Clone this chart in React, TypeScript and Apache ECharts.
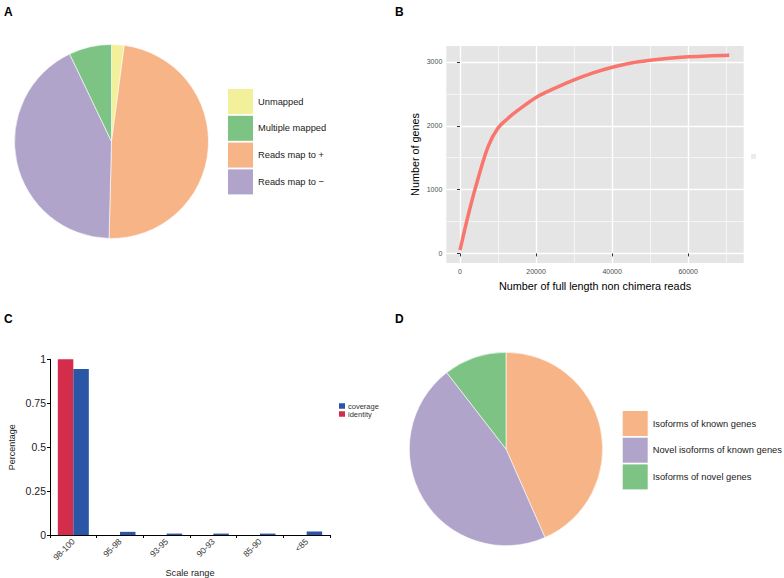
import React, { useEffect, useRef } from "react";
import * as echarts from "echarts";

// Panel A: mapping pie (clockwise from 12 o'clock)
const pieANames = ["Unmapped", "Reads map to +", "Reads map to −", "Multiple mapped"];
const pieAValues = [2.1, 48.3, 42.5, 7.1];
const pieAColors = ["#F3F09B", "#F7B587", "#B1A4CB", "#7DC383"];
const legendAOrder = ["Unmapped", "Multiple mapped", "Reads map to +", "Reads map to −"];

// Panel B: saturation curve
const curveReads = [0, 2500, 5000, 7500, 10000, 12500, 15000, 20000, 25000, 30000, 35000, 40000, 45000, 50000, 55000, 60000, 65000, 70800];
const curveGenes = [50, 680, 1225, 1690, 1964, 2110, 2232, 2445, 2590, 2718, 2828, 2918, 2985, 3027, 3058, 3080, 3095, 3105];
const xTicksB = [0, 20000, 40000, 60000];
const yTicksB = [0, 1000, 2000, 3000];

// Panel C: identity / coverage bars
const scaleRanges = ["98-100", "95-98", "93-95", "90-93", "85-90", "<85"];
const identityValues = [1, 0, 0, 0, 0, 0];
const coverageValues = [0.945, 0.018, 0.008, 0.008, 0.008, 0.02];

// Panel D: isoform pie
const pieDNames = ["Isoforms of known genes", "Novel isoforms of known genes", "Isoforms of novel genes"];
const pieDValues = [43.4, 46.1, 10.5];
const pieDColors = ["#F7B587", "#B1A4CB", "#7DC383"];

const FONT = "'Liberation Sans', Arial, sans-serif";

export default function App() {
  const ref = useRef<HTMLDivElement>(null);
  useEffect(() => {
    document.body.style.margin = "0";
    if (!ref.current) return;
    const chart = echarts.init(ref.current, null, { renderer: "svg" });
    const pieLegendText = { fontSize: 9.3, color: "#1a1a1a", fontFamily: FONT };
    const plain = (v: number) => String(v);
    const option: any = {
      animation: false,
      backgroundColor: "#ffffff",
      textStyle: { fontFamily: FONT },
      graphic: [
        { type: "text", left: 4, top: 6, style: { text: "A", fontSize: 12, fontWeight: "bold", fill: "#000", fontFamily: FONT } },
        { type: "text", left: 395, top: 6, style: { text: "B", fontSize: 12, fontWeight: "bold", fill: "#000", fontFamily: FONT } },
        { type: "text", left: 4, top: 313, style: { text: "C", fontSize: 12, fontWeight: "bold", fill: "#000", fontFamily: FONT } },
        { type: "text", left: 395, top: 313, style: { text: "D", fontSize: 12, fontWeight: "bold", fill: "#000", fontFamily: FONT } },
        { type: "rect", shape: { x: 751, y: 154, width: 5, height: 5 }, style: { fill: "#EBEBEB" } },
      ],
      legend: [
        {
          left: 228, top: 89, padding: 0, orient: "vertical", icon: "rect",
          itemWidth: 25, itemHeight: 25, itemGap: 1.8, selectedMode: false,
          itemStyle: { borderWidth: 0 },
          data: legendAOrder, textStyle: pieLegendText,
        },
        {
          left: 622.7, top: 411, padding: 0, orient: "vertical", icon: "rect",
          itemWidth: 25, itemHeight: 25, itemGap: 1.7, selectedMode: false,
          itemStyle: { borderWidth: 0 },
          data: pieDNames, textStyle: pieLegendText,
        },
        {
          left: 339, top: 402, padding: 0, orient: "vertical", icon: "rect",
          itemWidth: 6, itemHeight: 5.5, itemGap: 0, selectedMode: false,
          data: ["coverage", "identity"],
          textStyle: { fontSize: 7.5, color: "#333", fontFamily: FONT, padding: [0, 0, 0, -2] },
        },
      ],
      grid: [
        { left: 446.3, right: 40.3, top: 46, bottom: 315, show: true, backgroundColor: "#E5E5E5", borderWidth: 0 },
        { left: 50, right: 454, top: 359.3, bottom: 39.7 },
      ],
      xAxis: [
        {
          gridIndex: 0, type: "value", min: -3600, max: 74600, splitNumber: 4,
          minInterval: 20000, maxInterval: 20000,
          name: "Number of full length non chimera reads", nameLocation: "middle", nameGap: 17,
          nameTextStyle: { fontSize: 10.8, color: "#000" },
          axisLine: { show: false },
          axisTick: { show: true, length: 3, lineStyle: { color: "#333" }, customValues: xTicksB },
          axisLabel: { fontSize: 7, color: "#4D4D4D", margin: 5, customValues: xTicksB, formatter: plain },
          splitLine: { show: true, lineStyle: { color: "#ffffff", width: 1.4 } },
          minorTick: { show: false, splitNumber: 2 },
          minorSplitLine: { show: true, lineStyle: { color: "#ffffff", width: 0.6 } },
        },
        {
          gridIndex: 1, type: "category", data: scaleRanges,
          name: "Scale range", nameLocation: "middle", nameGap: 33,
          nameTextStyle: { fontSize: 9.2, color: "#222" },
          axisLine: { show: true, lineStyle: { color: "#000", width: 1 } },
          axisTick: { show: true, length: 3, lineStyle: { color: "#000" } },
          axisLabel: { interval: 0, rotate: 45, fontSize: 8.5, color: "#333", margin: 5 },
          splitLine: { show: false },
        },
      ],
      yAxis: [
        {
          gridIndex: 0, type: "value", min: -150, max: 3250, splitNumber: 4,
          minInterval: 1000, maxInterval: 1000,
          name: "Number of genes", nameLocation: "middle", nameGap: 26,
          nameTextStyle: { fontSize: 10.8, color: "#000" },
          axisLine: { show: false },
          axisTick: { show: true, length: 3, lineStyle: { color: "#333" }, customValues: yTicksB },
          axisLabel: { fontSize: 7, color: "#4D4D4D", margin: 4, customValues: yTicksB, formatter: plain },
          splitLine: { show: true, lineStyle: { color: "#ffffff", width: 1.4 } },
          minorTick: { show: false, splitNumber: 2 },
          minorSplitLine: { show: true, lineStyle: { color: "#ffffff", width: 0.6 } },
        },
        {
          gridIndex: 1, type: "value", min: 0, max: 1, interval: 0.25,
          name: "Percentage", nameLocation: "middle", nameGap: 34,
          nameTextStyle: { fontSize: 9, color: "#222" },
          axisLine: { show: true, lineStyle: { color: "#000", width: 1 } },
          axisTick: { show: true, length: 3, lineStyle: { color: "#000" } },
          axisLabel: { fontSize: 10.5, color: "#222", margin: 4 },
          splitLine: { show: false },
        },
      ],
      series: [
        {
          type: "pie", center: [111.5, 141.5], radius: 97, startAngle: 90, clockwise: true,
          label: { show: false }, labelLine: { show: false }, silent: true,
          itemStyle: { borderColor: "#ffffff", borderWidth: 0.6 },
          data: pieANames.map((n, i) => ({ name: n, value: pieAValues[i], itemStyle: { color: pieAColors[i] } })),
        },
        {
          type: "pie", center: [506, 449], radius: 96.7, startAngle: 90, clockwise: true,
          label: { show: false }, labelLine: { show: false }, silent: true,
          itemStyle: { borderColor: "#ffffff", borderWidth: 0.6 },
          data: pieDNames.map((n, i) => ({ name: n, value: pieDValues[i], itemStyle: { color: pieDColors[i] } })),
        },
        {
          type: "line", xAxisIndex: 0, yAxisIndex: 0, smooth: 0.35, symbol: "none",
          lineStyle: { color: "#F8766D", width: 3.5, cap: "butt", join: "round" },
          data: curveReads.map((x, i) => [x, curveGenes[i]]),
        },
        {
          name: "identity", type: "bar", xAxisIndex: 1, yAxisIndex: 1,
          barWidth: 15.5, barGap: "0%",
          itemStyle: { color: "#D42C4B" }, data: identityValues,
        },
        {
          name: "coverage", type: "bar", xAxisIndex: 1, yAxisIndex: 1,
          barWidth: 15.5, barGap: "0%",
          itemStyle: { color: "#2B56A6" }, data: coverageValues,
        },
      ],
    };
    chart.setOption(option);
    return () => chart.dispose();
  }, []);
  return <div ref={ref} style={{ width: 784, height: 578 }} />;
}
